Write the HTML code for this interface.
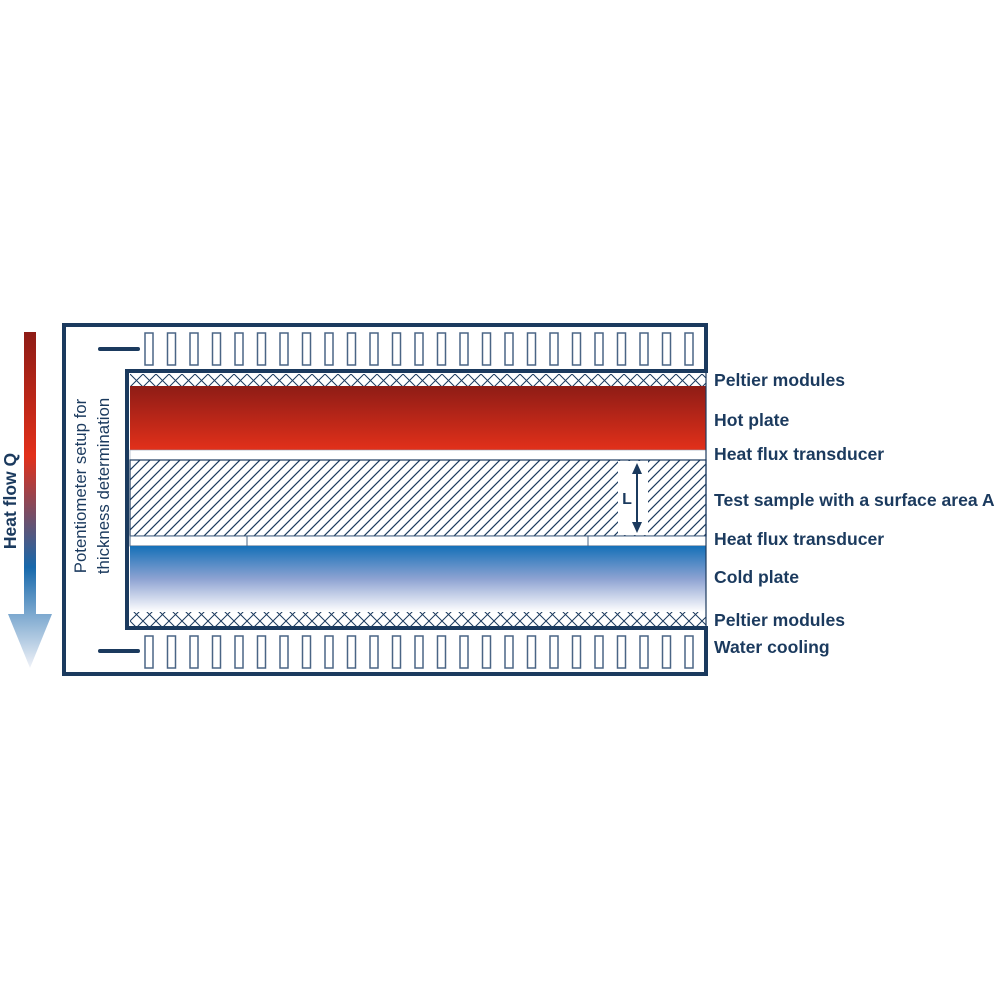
<!DOCTYPE html>
<html><head><style>html,body{margin:0;padding:0;background:#fff}svg{display:block}</style></head>
<body>
<svg width="1000" height="1000" viewBox="0 0 1000 1000" xmlns="http://www.w3.org/2000/svg" font-family="Liberation Sans, sans-serif">
<defs>
<linearGradient id="hot" x1="0" y1="0" x2="0" y2="1"><stop offset="0" stop-color="#8e1c16"/><stop offset="1" stop-color="#e2301a"/></linearGradient>
<linearGradient id="cold" x1="0" y1="0" x2="0" y2="1"><stop offset="0" stop-color="#1570b8"/><stop offset="0.5" stop-color="#8ea3d2"/><stop offset="1" stop-color="#ffffff"/></linearGradient>
<linearGradient id="flow" x1="0" y1="332" x2="0" y2="668" gradientUnits="userSpaceOnUse"><stop offset="0" stop-color="#8e1c16"/><stop offset="0.37" stop-color="#e2301a"/><stop offset="0.7" stop-color="#1768ab"/><stop offset="1" stop-color="#f0f2f8"/></linearGradient>
<pattern id="hatch" width="10" height="10" patternUnits="userSpaceOnUse"><path d="M-2,12 L12,-2 M-2,2 L2,-2 M8,12 L12,8" stroke="#1b3a5e" stroke-width="1.2"/></pattern>
<pattern id="cross" x="130" y="374" width="13" height="13" patternUnits="userSpaceOnUse"><path d="M0,0 L13,13 M13,0 L0,13" stroke="#1b3a5e" stroke-width="1"/></pattern>
</defs>
<rect x="24" y="332" width="12" height="285" fill="url(#flow)"/>
<polygon points="8,614 52,614 30,668" fill="url(#flow)"/>
<text transform="translate(16,501) rotate(-90)" text-anchor="middle" font-size="17.5" font-weight="bold" fill="#1b3a5e">Heat flow Q</text>
<path d="M127,371 H706 V325 H64 V674 H706 V628 H127 Z" fill="none" stroke="#1b3a5e" stroke-width="4"/>
<text transform="translate(86,486) rotate(-90)" text-anchor="middle" font-size="16.8" fill="#1b3a5e">Potentiometer setup for</text>
<text transform="translate(109,486) rotate(-90)" text-anchor="middle" font-size="16.8" fill="#1b3a5e">thickness determination</text>
<line x1="100" y1="349" x2="138" y2="349" stroke="#1b3a5e" stroke-width="4" stroke-linecap="round"/>
<line x1="100" y1="651" x2="138" y2="651" stroke="#1b3a5e" stroke-width="4" stroke-linecap="round"/>
<g fill="none" stroke="#4a6585" stroke-width="1.5" id="fins">
<rect x="145" y="333" width="8" height="32"/><rect x="167.5" y="333" width="8" height="32"/><rect x="190" y="333" width="8" height="32"/><rect x="212.5" y="333" width="8" height="32"/><rect x="235" y="333" width="8" height="32"/><rect x="257.5" y="333" width="8" height="32"/><rect x="280" y="333" width="8" height="32"/><rect x="302.5" y="333" width="8" height="32"/><rect x="325" y="333" width="8" height="32"/><rect x="347.5" y="333" width="8" height="32"/><rect x="370" y="333" width="8" height="32"/><rect x="392.5" y="333" width="8" height="32"/><rect x="415" y="333" width="8" height="32"/><rect x="437.5" y="333" width="8" height="32"/><rect x="460" y="333" width="8" height="32"/><rect x="482.5" y="333" width="8" height="32"/><rect x="505" y="333" width="8" height="32"/><rect x="527.5" y="333" width="8" height="32"/><rect x="550" y="333" width="8" height="32"/><rect x="572.5" y="333" width="8" height="32"/><rect x="595" y="333" width="8" height="32"/><rect x="617.5" y="333" width="8" height="32"/><rect x="640" y="333" width="8" height="32"/><rect x="662.5" y="333" width="8" height="32"/><rect x="685" y="333" width="8" height="32"/>
</g>
<use href="#fins" transform="translate(0,303)"/>
<rect x="130" y="374" width="576" height="12" fill="url(#cross)"/>
<rect x="130" y="386" width="576" height="64" fill="url(#hot)"/>
<rect x="130" y="450" width="576" height="10" fill="#fff" stroke="#8fa0b5" stroke-width="0.6"/>
<rect x="130" y="460" width="576" height="76" fill="url(#hatch)" stroke="#1b3a5e" stroke-width="1.2"/>
<rect x="618" y="461" width="30" height="74" fill="#fff"/>
<line x1="637" y1="470" x2="637" y2="526" stroke="#1b3a5e" stroke-width="2"/>
<polygon points="637,463 632,474 642,474" fill="#1b3a5e"/>
<polygon points="637,533 632,522 642,522" fill="#1b3a5e"/>
<text x="627" y="504" text-anchor="middle" font-size="16" font-weight="bold" fill="#1b3a5e">L</text>
<rect x="130" y="536" width="576" height="10" fill="#fff" stroke="#4a6585" stroke-width="1"/>
<line x1="247" y1="536" x2="247" y2="546" stroke="#4a6585"/>
<line x1="588" y1="536" x2="588" y2="546" stroke="#4a6585"/>
<rect x="130" y="546" width="576" height="66" fill="url(#cold)"/>
<rect x="130" y="612" width="576" height="14" fill="url(#cross)"/>
<line x1="706" y1="371" x2="706" y2="628" stroke="#1b3a5e" stroke-width="1.2"/>
<g font-size="17.6" font-weight="bold" fill="#1b3a5e">
<text x="714" y="386">Peltier modules</text>
<text x="714" y="426">Hot plate</text>
<text x="714" y="460">Heat flux transducer</text>
<text x="714" y="506">Test sample with a surface area A</text>
<text x="714" y="545">Heat flux transducer</text>
<text x="714" y="583">Cold plate</text>
<text x="714" y="626">Peltier modules</text>
<text x="714" y="653">Water cooling</text>
</g>
</svg>
</body></html>
